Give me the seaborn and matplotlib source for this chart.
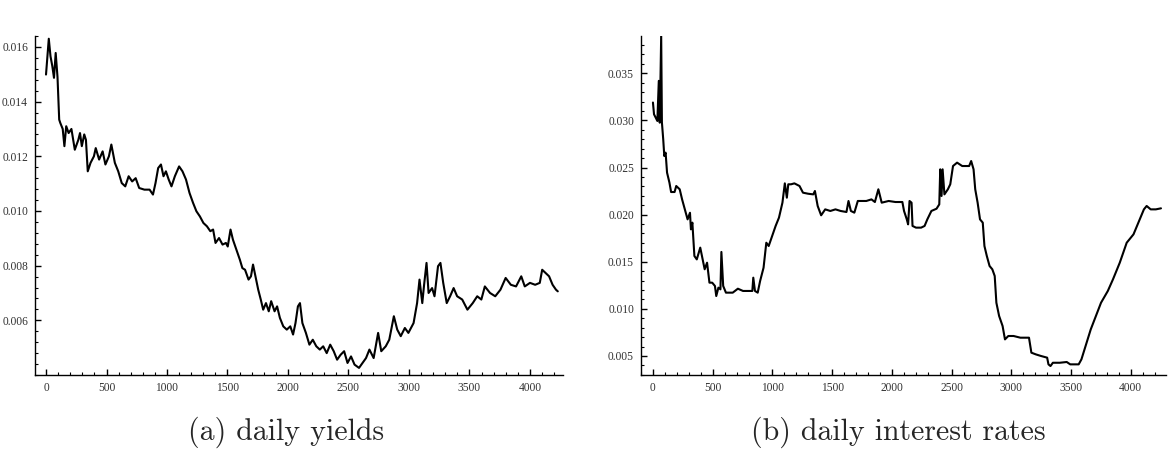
import matplotlib
matplotlib.use("Agg")
import matplotlib.pyplot as plt
from matplotlib.ticker import MultipleLocator, FixedLocator, FormatStrFormatter
import seaborn as sns
import pandas as pd

# ---- (a) daily yields ----
yield_day = [0, 23, 37, 52, 66, 80, 95, 109, 118, 138, 152, 167, 187, 210, 238, 267, 281, 296, 316, 330,
             345, 368, 396, 411, 439, 468, 491, 520, 540, 569, 597, 626, 655, 683, 712, 741, 770, 813, 856, 884,
             905, 927, 950, 971, 991, 1014, 1037, 1065, 1100, 1128, 1157, 1186, 1215, 1243, 1272, 1301, 1330, 1358, 1381, 1401,
             1430, 1459, 1487, 1502, 1525, 1545, 1574, 1602, 1623, 1645, 1674, 1694, 1711, 1731, 1754, 1775, 1795, 1818, 1841, 1861,
             1889, 1910, 1933, 1961, 1990, 2019, 2042, 2062, 2082, 2099, 2119, 2148, 2177, 2205, 2234, 2263, 2291, 2320, 2349, 2378,
             2406, 2435, 2464, 2492, 2521, 2550, 2587, 2616, 2645, 2673, 2708, 2745, 2771, 2808, 2837, 2875, 2903, 2932, 2966, 2995,
             3038, 3067, 3087, 3110, 3125, 3145, 3162, 3191, 3211, 3240, 3260, 3283, 3312, 3340, 3369, 3398, 3440, 3483, 3527, 3564,
             3598, 3627, 3670, 3713, 3756, 3799, 3842, 3885, 3928, 3957, 4000, 4043, 4081, 4101, 4129, 4158, 4187, 4215, 4230]
yield_val = [0.01499, 0.0163, 0.01566, 0.0153, 0.01487, 0.01578, 0.0149, 0.01334, 0.01322, 0.0130, 0.01237, 0.0131, 0.01285, 0.0130, 0.01224, 0.0126, 0.01285, 0.01237, 0.0128, 0.0126,
             0.01145, 0.01176, 0.0120, 0.0123, 0.01188, 0.01218, 0.0117, 0.0120, 0.01243, 0.01176, 0.01145, 0.01102, 0.0109, 0.01127, 0.01108, 0.0112, 0.01084, 0.01078, 0.01078, 0.0106,
             0.01102, 0.01157, 0.0117, 0.01127, 0.01145, 0.01115, 0.0109, 0.01127, 0.01163, 0.01145, 0.01115, 0.01066, 0.0103, 0.00999, 0.0098, 0.00956, 0.00944, 0.00926, 0.00932, 0.00883,
             0.00901, 0.00877, 0.00883, 0.0087, 0.00932, 0.00895, 0.00858, 0.00822, 0.00791, 0.00785, 0.00749, 0.00761, 0.00804, 0.00761, 0.00712, 0.00676, 0.00639, 0.00663, 0.00633, 0.0067,
             0.00633, 0.00651, 0.00609, 0.00578, 0.00566, 0.00578, 0.00548, 0.0059, 0.00651, 0.00663, 0.0059, 0.00554, 0.00511, 0.00529, 0.00505, 0.00493, 0.00505, 0.0048, 0.00511, 0.00487,
             0.00456, 0.00474, 0.00487, 0.00444, 0.00468, 0.00438, 0.00426, 0.00444, 0.00462, 0.00493, 0.00462, 0.00554, 0.00487, 0.00505, 0.00529, 0.00615, 0.00566, 0.00542, 0.00572, 0.00554,
             0.0059, 0.00663, 0.00749, 0.00663, 0.0073, 0.0081, 0.0070, 0.00718, 0.00688, 0.00798, 0.0081, 0.00737, 0.00663, 0.00688, 0.00718, 0.00688, 0.00676, 0.00639, 0.00663, 0.00688,
             0.00676, 0.00724, 0.0070, 0.00688, 0.00712, 0.00755, 0.0073, 0.00724, 0.00761, 0.00724, 0.00737, 0.0073, 0.00737, 0.00785, 0.00773, 0.00761, 0.0073, 0.00712, 0.00706]

# ---- (b) daily interest rates ----
rate_day = [0, 9, 23, 37, 49, 57, 69, 75, 86, 95, 106, 118, 138, 152, 181, 195, 224, 244, 267, 290,
            310, 318, 330, 347, 367, 396, 416, 433, 453, 473, 496, 519, 530, 548, 565, 573, 588, 611, 668, 711,
            754, 832, 840, 854, 877, 897, 926, 949, 969, 998, 1027, 1055, 1084, 1104, 1121, 1133, 1156, 1184, 1227, 1256,
            1299, 1342, 1356, 1379, 1408, 1442, 1485, 1528, 1571, 1620, 1637, 1657, 1686, 1715, 1786, 1829, 1858, 1887, 1915, 1973,
            2030, 2088, 2102, 2125, 2136, 2148, 2165, 2173, 2202, 2245, 2274, 2297, 2331, 2374, 2397, 2405, 2416, 2425, 2440, 2469,
            2489, 2512, 2546, 2589, 2647, 2664, 2684, 2698, 2718, 2738, 2761, 2775, 2795, 2818, 2841, 2861, 2875, 2898, 2927, 2947,
            2975, 3019, 3076, 3148, 3168, 3205, 3248, 3300, 3311, 3328, 3348, 3406, 3464, 3493, 3564, 3587, 3622, 3665, 3708, 3751,
            3808, 3851, 3908, 3966, 4023, 4081, 4110, 4133, 4167, 4210, 4253]
rate_val = [0.0319, 0.03065, 0.0303, 0.02994, 0.0342, 0.02976, 0.0390, 0.0298, 0.0280, 0.02622, 0.02658, 0.02446, 0.0234, 0.0224, 0.0224, 0.02304, 0.02269, 0.02162, 0.02056, 0.0195,
            0.0202, 0.01844, 0.01915, 0.01561, 0.01525, 0.0165, 0.01525, 0.0142, 0.0149, 0.01278, 0.01278, 0.01243, 0.01136, 0.01225, 0.01207, 0.01604, 0.01243, 0.01172, 0.01172, 0.01214,
            0.0119, 0.0119, 0.01331, 0.0119, 0.01172, 0.01295, 0.01437, 0.01702, 0.01667, 0.01773, 0.0188, 0.01968, 0.02127, 0.02332, 0.0218, 0.02322, 0.02322, 0.02332, 0.02304, 0.02233,
            0.02222, 0.02215, 0.02251, 0.02092, 0.01993, 0.02056, 0.02039, 0.02056, 0.02039, 0.02028, 0.02145, 0.02039, 0.02021, 0.02145, 0.02145, 0.02162, 0.02134, 0.02269, 0.02127, 0.02145,
            0.02134, 0.02134, 0.02039, 0.0195, 0.01897, 0.02145, 0.02127, 0.0188, 0.01862, 0.01862, 0.0188, 0.0195, 0.02039, 0.02063, 0.02109, 0.02481, 0.02198, 0.02481, 0.02215, 0.02269,
            0.02322, 0.02516, 0.02552, 0.02516, 0.02516, 0.02569, 0.02481, 0.02269, 0.02127, 0.0195, 0.01915, 0.01667, 0.01561, 0.01455, 0.0142, 0.01349, 0.01065, 0.00924, 0.00818, 0.00676,
            0.00712, 0.00712, 0.00694, 0.00694, 0.00535, 0.00517, 0.0050, 0.00482, 0.00411, 0.00393, 0.00428, 0.00428, 0.00436, 0.00411, 0.00411, 0.00464, 0.00606, 0.00782, 0.00924, 0.01065,
            0.0119, 0.01313, 0.0149, 0.01702, 0.01791, 0.01968, 0.02056, 0.02092, 0.02056, 0.02056, 0.02067]

captions = ["(a) daily yields", "(b) daily interest rates"]

sns.set_style("ticks")
plt.rcParams["font.family"] = ["Liberation Serif", "DejaVu Serif"]

fig = plt.figure(figsize=(11.68, 4.59), dpi=100)
ax1 = fig.add_axes([35 / 1168, 1 - 375 / 459, (563 - 35) / 1168, (375 - 36) / 459])
ax2 = fig.add_axes([641 / 1168, 1 - 375 / 459, (1166 - 641) / 1168, (375 - 36) / 459])

df1 = pd.DataFrame({"day": yield_day, "value": yield_val})
df2 = pd.DataFrame({"day": rate_day, "value": rate_val})
sns.lineplot(data=df1, x="day", y="value", ax=ax1, color="black", linewidth=1.5, estimator=None)
sns.lineplot(data=df2, x="day", y="value", ax=ax2, color="black", linewidth=1.5, estimator=None)

ax1.set_xlim(-91, 4273)
ax1.set_ylim(0.0040, 0.0164)
ax2.set_xlim(-100, 4295)
ax2.set_ylim(0.00298, 0.03896)

ax1.yaxis.set_major_locator(FixedLocator([0.006, 0.008, 0.010, 0.012, 0.014, 0.016]))
ax1.yaxis.set_minor_locator(MultipleLocator(0.0004))
ax1.yaxis.set_major_formatter(FormatStrFormatter("%.3f"))
ax2.yaxis.set_major_locator(FixedLocator([0.005, 0.010, 0.015, 0.020, 0.025, 0.030, 0.035]))
ax2.yaxis.set_minor_locator(MultipleLocator(0.001))
ax2.yaxis.set_major_formatter(FormatStrFormatter("%.3f"))

for ax in (ax1, ax2):
    ax.xaxis.set_major_locator(FixedLocator([0, 500, 1000, 1500, 2000, 2500, 3000, 3500, 4000]))
    ax.xaxis.set_minor_locator(MultipleLocator(100))
    ax.set_xlabel("")
    ax.set_ylabel("")
    for s in ("top", "right"):
        ax.spines[s].set_visible(False)
    for s in ("left", "bottom"):
        ax.spines[s].set_color("black")
        ax.spines[s].set_linewidth(1.0)
    ax.tick_params(which="major", direction="in", length=4, width=1.0, color="black",
                   labelsize=8.3, labelcolor="#333333", pad=5)
    ax.tick_params(which="minor", direction="in", length=2, width=0.8, color="black")
    ax.set_facecolor("white")

fig.text(286 / 1168, 1 - 432 / 459, captions[0], ha="center", va="center",
         fontsize=21.5, family=["cmr10", "DejaVu Serif"])
fig.text(898 / 1168, 1 - 432 / 459, captions[1], ha="center", va="center",
         fontsize=21.5, family=["cmr10", "DejaVu Serif"])

fig.savefig("out.png", dpi=100, facecolor="white")
